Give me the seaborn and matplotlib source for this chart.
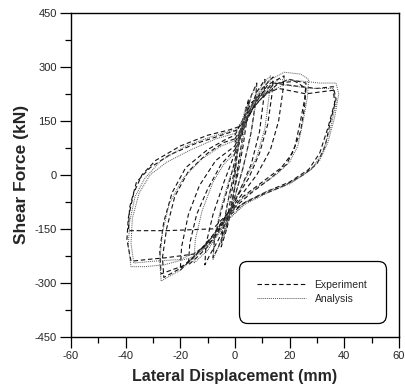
import numpy as np
import pandas as pd
import matplotlib
matplotlib.use('Agg')
import matplotlib.pyplot as plt
from matplotlib.ticker import MultipleLocator
import seaborn as sns

sns.set_style('ticks')
plt.rcParams['font.family'] = ['Liberation Sans', 'DejaVu Sans']
plt.rcParams['axes.unicode_minus'] = False

# hysteresis loops: (displacement mm, shear kN)
exp_loops = [
    [(0, 0), (1, 70), (2, 110), (3, 140), (2.5, 90), (1, 20), (0, -30), (-1, -80), (-2, -120),
     (-3, -150), (-2.5, -110), (-1, -40), (0, 0)],
    [(0, 20), (2, 110), (4, 180), (5, 210), (4.5, 160), (3, 80), (1, 0), (-1, -70), (-3, -150),
     (-5, -200), (-4.5, -160), (-3, -90), (-1, -20), (0, 20)],
    [(0, 40), (3, 140), (6, 220), (8, 255), (7.5, 200), (6, 120), (3, 20), (0, -60), (-3, -140),
     (-6, -200), (-8, -230), (-7.5, -180), (-5, -100), (-2, -20), (0, 40)],
    [(0, 60), (4, 150), (8, 230), (11, 265), (10.5, 210), (9, 120), (6, 30), (2, -40), (-2, -110),
     (-6, -180), (-9, -220), (-11, -250), (-10.5, -190), (-8, -110), (-4, -20), (0, 60)],
    [(0, 70), (5, 160), (10, 240), (14, 272), (13.5, 220), (12, 140), (9, 60), (5, -10), (0, -70),
     (-5, -140), (-10, -200), (-14, -230), (-17, -250), (-16.5, -190), (-14, -110), (-10, -40),
     (-5, 30), (0, 70)],
    [(0, 80), (5, 170), (12, 250), (18, 275), (17.5, 230), (16, 150), (13, 70), (8, 0), (3, -50),
     (-2, -100), (-8, -170), (-14, -220), (-20, -265), (-19.5, -200), (-17, -110), (-13, -30),
     (-7, 40), (0, 80)],
    [(0, 90), (6, 180), (14, 250), (20, 265), (26, 255), (25.5, 210), (24, 150), (22, 80), (19, 30),
     (13, -10), (6, -50), (0, -90), (-6, -150), (-14, -220), (-20, -260), (-26, -285), (-26.5, -230),
     (-25, -150), (-22, -60), (-17, 10), (-10, 60), (-4, 90), (0, 100)],
    [(0, 100), (8, 200), (16, 255), (22, 260), (26, 240), (25.5, 190), (24, 120), (21, 60), (17, 20),
     (10, -20), (3, -60), (-3, -110), (-10, -190), (-18, -250), (-27, -275), (-27.5, -210),
     (-26, -130), (-23, -50), (-18, 20), (-10, 70), (-3, 100), (0, 110)],
    [(0, 110), (6, 200), (14, 255), (24, 245), (30, 240), (36, 245), (37, 210), (35, 150), (33, 80),
     (30, 30), (25, 0), (18, -30), (10, -55), (3, -80), (-3, -120), (-8, -180), (-15, -220),
     (-25, -230), (-32, -235), (-38, -240), (-39.5, -180), (-39, -120), (-37, -50), (-34, 0),
     (-29, 40), (-20, 80), (-10, 110), (-2, 125), (2, 135)],
    [(2, 135), (8, 215), (16, 240), (26, 225), (36, 235), (36.5, 200), (34, 130), (31, 60), (27, 15),
     (20, -20), (12, -45), (4, -75), (-3, -110), (-8, -150), (-25, -155), (-39, -155), (-38.5, -90),
     (-36, -20), (-31, 20), (-24, 55), (-15, 85), (-5, 110), (3, 130)],
]

ana_loops = [
    [(0, 0), (1.5, 100), (3, 160), (4, 190), (3.5, 130), (2, 50), (0, -30), (-2, -110), (-4, -170),
     (-3.5, -120), (-2, -50), (0, 0)],
    [(0, 30), (3, 140), (6, 220), (8, 250), (7.5, 190), (5.5, 100), (3, 20), (0, -60), (-3, -140),
     (-6, -200), (-8, -235), (-7.5, -170), (-5, -90), (-2, -10), (0, 30)],
    [(0, 60), (5, 170), (10, 250), (13, 275), (12.5, 220), (11, 130), (8, 50), (4, -10), (0, -70),
     (-5, -150), (-10, -210), (-15, -245), (-14.5, -180), (-12, -100), (-8, -20), (-4, 30), (0, 60)],
    [(0, 80), (6, 190), (12, 260), (18, 285), (24, 280), (27, 265), (26.5, 215), (25, 150), (23, 80),
     (20, 35), (15, 0), (8, -35), (2, -70), (-4, -130), (-12, -210), (-20, -265), (-27, -295),
     (-27.5, -240), (-26.5, -160), (-24, -80), (-19, -10), (-12, 45), (-5, 80), (0, 95)],
    [(0, 95), (8, 210), (16, 265), (25, 260), (31, 255), (37, 255), (38, 225), (36.5, 160), (34, 90),
     (31, 40), (27, 10), (20, -25), (12, -50), (4, -80), (-2, -120), (-8, -185), (-16, -230),
     (-26, -250), (-33, -255), (-38, -255), (-39, -200), (-38.5, -130), (-36.5, -60), (-33, -10),
     (-27, 40), (-18, 80), (-9, 105), (0, 125)],
    [(0, 120), (8, 215), (18, 250), (28, 240), (36, 240), (37, 200), (35, 130), (32, 60), (28, 15),
     (21, -20), (12, -45), (4, -75), (-3, -130), (-10, -200), (-20, -235), (-30, -240), (-37, -245),
     (-38, -190), (-37.5, -120), (-35, -50), (-31, 0), (-25, 35), (-16, 70), (-7, 100), (0, 115)],
]

x_ticks = [-60, -40, -20, 0, 20, 40, 60]
y_ticks = [-450, -300, -150, 0, 150, 300, 450]

rows = []
for name, loops in [('Experiment', exp_loops), ('Analysis', ana_loops)]:
    for i, loop in enumerate(loops):
        for k, (x, y) in enumerate(loop):
            rows.append({'x': x, 'y': y, 'loop': f'{name}{i}', 'source': name, 'order': k})
df = pd.DataFrame(rows)

fig = plt.figure(figsize=(4.05, 3.89), dpi=100)
ax = fig.add_axes([0.175, 0.134, 0.81, 0.833])

sns.lineplot(data=df[df.source == 'Experiment'], x='x', y='y', units='loop', estimator=None,
             sort=False, color='#111111', lw=0.8, ax=ax, label='Experiment',
             linestyle=(0, (4, 2.5)))
sns.lineplot(data=df[df.source == 'Analysis'], x='x', y='y', units='loop', estimator=None,
             sort=False, color='#555555', lw=0.7, ax=ax, label='Analysis',
             linestyle=(0, (1, 1)))

ax.set_xlim(-60, 60)
ax.set_ylim(-450, 450)
ax.set_xticks(x_ticks)
ax.set_yticks(y_ticks)
ax.xaxis.set_minor_locator(MultipleLocator(10))
ax.yaxis.set_minor_locator(MultipleLocator(75))
ax.tick_params(axis='both', which='major', direction='out', length=8, width=0.9,
               labelsize=8, color='black', pad=2)
ax.tick_params(axis='both', which='minor', direction='out', length=4, width=0.9, color='black')
for s in ax.spines.values():
    s.set_linewidth(1.0)
    s.set_color('black')

ax.set_xlabel('Lateral Displacement (mm)', fontsize=11.5, fontweight='bold', labelpad=6)
ax.set_ylabel('Shear Force (kN)', fontsize=12.5, fontweight='bold', labelpad=4)

# one legend entry per source, not per loop
handles, labels = ax.get_legend_handles_labels()
seen = {}
for h, l in zip(handles, labels):
    seen.setdefault(l, h)
leg = ax.legend(list(seen.values()), list(seen.keys()), loc='center',
                bbox_to_anchor=(0.736, 0.139), fontsize=7.5,
                handlelength=4.7, handletextpad=0.8, borderpad=1.5, labelspacing=0.4,
                frameon=True, fancybox=True, framealpha=1, edgecolor='black')
leg.get_frame().set_linewidth(0.9)
leg.get_frame().set_boxstyle('round,pad=0.3,rounding_size=0.8')

fig.savefig('out.png', dpi=100)
